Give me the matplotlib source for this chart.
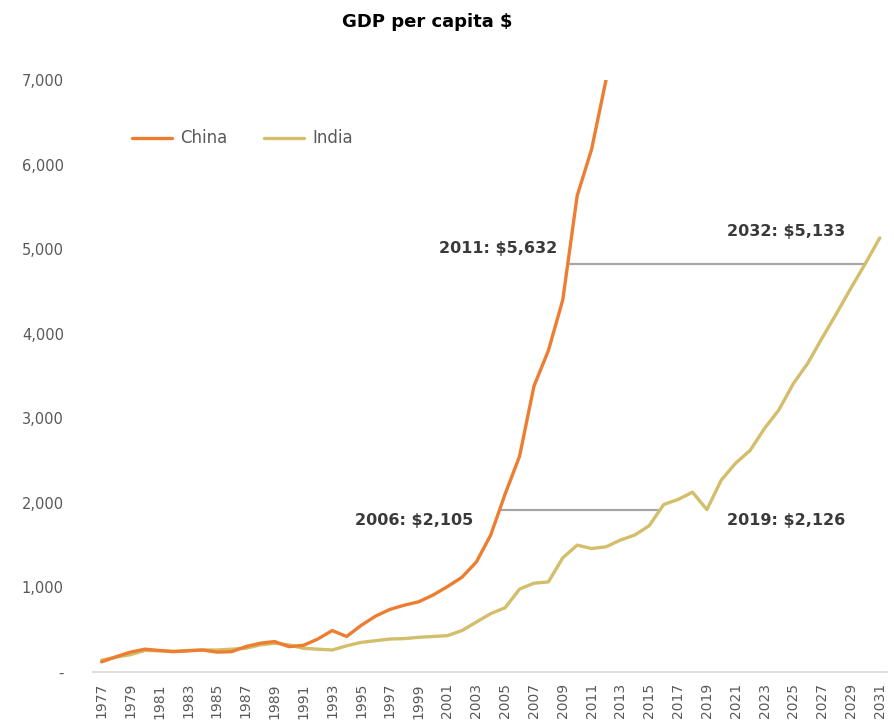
import matplotlib
matplotlib.use("Agg")
import matplotlib.pyplot as plt
from matplotlib.ticker import FuncFormatter, FixedLocator
import numpy as np

# GDP per capita, US$
years = list(range(1977, 2032))
china = [120, 180, 235, 270, 255, 240, 250, 260, 235, 240, 300, 340, 360, 300, 315,
         390, 490, 420, 550, 660, 740, 790, 830, 910, 1010, 1120, 1300, 1620, 2105,
         2550, 3380, 3800, 4400, 5632, 6180, 7000]
india = [140, 175, 205, 255, 250, 245, 255, 260, 260, 270, 280, 320, 340, 320, 280,
         270, 260, 310, 350, 370, 390, 395, 410, 420, 430, 490, 590, 690, 760,
         980, 1050, 1065, 1350, 1500, 1460, 1480, 1560, 1620, 1730, 1980, 2040, 2126,
         1920, 2270, 2470, 2620, 2880, 3100, 3410, 3650, 3950, 4240, 4540, 4830, 5133]

# horizontal connectors: level, first year to search from on each series
levels = [1920, 4830]
search_from = [(2000, 2012), (2005, 2025)]

annotations = [
    ("2011: $5,632", 2008.6, 5010),
    ("2032: $5,133", 2028.6, 5210),
    ("2006: $2,105", 2002.8, 1790),
    ("2019: $2,126", 2028.6, 1790),
]

c_china = "#ED7D31"
c_india = "#D3BE6C"
grey = "#595959"


def crossing(xs, ys, level, start):
    # first year after `start` where the series reaches `level`
    xs = np.asarray(xs, float)
    ys = np.asarray(ys, float)
    for i in range(len(xs) - 1):
        if xs[i] < start:
            continue
        if ys[i] <= level <= ys[i + 1]:
            return xs[i] + (level - ys[i]) / (ys[i + 1] - ys[i])
    return xs[-1]


fig = plt.figure(figsize=(8.95, 7.27), dpi=100)
ax = fig.add_axes([93 / 895, 1 - 672 / 727, (887 - 93) / 895, (672 - 80) / 727])

ax.plot(years[:len(china)], china, color=c_china, lw=2.4, label="China",
        solid_capstyle="round", solid_joinstyle="round", zorder=3)
ax.plot(years, india, color=c_india, lw=2.4, label="India",
        solid_capstyle="round", solid_joinstyle="round", zorder=2)

for lvl, (s1, s2) in zip(levels, search_from):
    x1 = crossing(years[:len(china)], china, lvl, s1)
    x2 = crossing(years, india, lvl, s2)
    ax.plot([x1, x2], [lvl, lvl], color="#A6A6A6", lw=1.6, zorder=1)

for txt, x, y in annotations:
    ax.text(x, y, txt, ha="right", va="center", fontsize=11.5,
            fontweight="bold", color="#3A3A3A")

ax.set_xlim(1976.4, 2031.5)
ax.set_ylim(0, 7000)
ax.set_yticks(range(0, 7001, 1000))
ax.yaxis.set_major_formatter(FuncFormatter(lambda v, p: "-" if v == 0 else f"{v:,.0f}"))
ax.xaxis.set_major_locator(FixedLocator(years[::2]))
ax.set_xticklabels([str(y) for y in years[::2]], rotation=90)

ax.tick_params(axis="y", length=0, pad=21, labelsize=10.5, labelcolor=grey)
ax.tick_params(axis="x", length=0, pad=8, labelsize=10, labelcolor=grey)

for side in ["top", "right", "left"]:
    ax.spines[side].set_visible(False)
ax.spines["bottom"].set_color("#D9D9D9")
ax.spines["bottom"].set_linewidth(1.2)

leg = ax.legend(loc="upper left", bbox_to_anchor=(0.03, 0.942), ncol=2, frameon=False,
                fontsize=12, handlelength=2.4, columnspacing=2.2, handletextpad=0.5)
for t in leg.get_texts():
    t.set_color(grey)

fig.text(427 / 895, 1 - 22 / 727, "GDP per capita $", ha="center", va="center",
         fontsize=13, fontweight="bold", color="black")

fig.savefig("out.png", dpi=100, facecolor="white")
